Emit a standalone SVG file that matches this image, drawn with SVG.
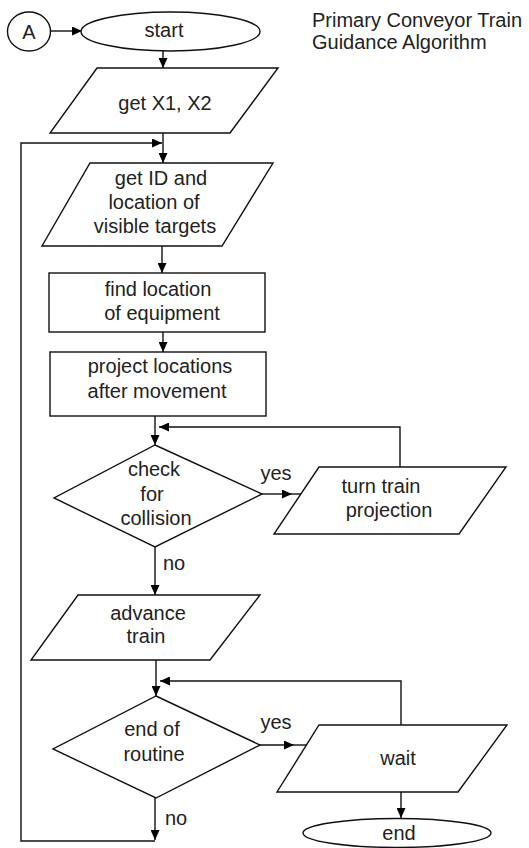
<svg xmlns="http://www.w3.org/2000/svg" width="529" height="848" viewBox="0 0 529 848">
<defs>
<marker id="ah" markerUnits="userSpaceOnUse" markerWidth="10" markerHeight="9" refX="10" refY="4.5" orient="auto">
<path d="M0,0 L10,4.5 L0,9 z" fill="#000"/>
</marker>
<style>
.s{fill:#fff;stroke:#111;stroke-width:1.4}
.c{fill:none;stroke:#111;stroke-width:1.4}
.a{marker-end:url(#ah)}
text{font-family:"Liberation Sans",Arial,sans-serif;font-size:20px;fill:#222;text-anchor:middle}
.t{text-anchor:start}
</style>
</defs>
<rect width="529" height="848" fill="#fff"/>
<g id="title">
<text class="t" x="312" y="27">Primary Conveyor Train</text>
<text class="t" x="312" y="49">Guidance Algorithm</text>
</g>
<g id="connectors">
<path class="c a" d="M51,31 H82"/>
<path class="c a" d="M163,51 V68"/>
<path class="c a" d="M163,133 V163"/>
<path class="c a" d="M155,798 V840"/>
<path class="c a" d="M155,841 H21 V143 H162"/>
<path class="c a" d="M162,246 V273"/>
<path class="c a" d="M163,332 V352"/>
<path class="c a" d="M155,416 V445"/>
<path class="c a" d="M262,494 H292"/>
<path class="c" d="M292,494 H302"/>
<path class="c a" d="M400,467 V427 H159"/>
<path class="c a" d="M155,547 V595"/>
<path class="c a" d="M156,660 V696"/>
<path class="c a" d="M260,745 H294"/>
<path class="c" d="M294,745 H311"/>
<path class="c a" d="M401,725 V681 H160"/>
<path class="c a" d="M401,792 V818"/>
<text x="276" y="480">yes</text>
<text x="174" y="570">no</text>
<text x="276" y="729">yes</text>
<text x="176" y="825">no</text>
</g>
<g id="connA">
<ellipse class="s" cx="29" cy="31.5" rx="21.5" ry="19.5"/>
<text x="29" y="39">A</text>
</g>
<g id="start">
<ellipse class="s" cx="170.5" cy="31.5" rx="89.5" ry="19.5"/>
<text x="164" y="37">start</text>
</g>
<g id="getX">
<polygon class="s" points="97,68 278,68 230,133 50,133"/>
<text x="165" y="110">get X1, X2</text>
</g>
<g id="getID">
<polygon class="s" points="90,163 273,163 222,246 42,246"/>
<text x="161" y="185">get ID and</text>
<text x="154" y="209">location of</text>
<text x="155" y="233">visible targets</text>
</g>
<g id="findLoc">
<rect class="s" x="49" y="273" width="216" height="59"/>
<text x="158" y="296">find location</text>
<text x="162" y="320">of equipment</text>
</g>
<g id="project">
<rect class="s" x="50" y="352" width="216" height="64"/>
<text x="160" y="373">project locations</text>
<text x="157" y="398">after movement</text>
</g>
<g id="checkCollision">
<polygon class="s" points="155,445 262,494 155,547 54,498"/>
<text x="154" y="476">check</text>
<text x="152" y="501">for</text>
<text x="156" y="525">collision</text>
</g>
<g id="turnTrain">
<polygon class="s" points="319,467 506,467 459,534 274,534"/>
<text x="381" y="493">turn train</text>
<text x="389" y="517">projection</text>
</g>
<g id="advance">
<polygon class="s" points="78,595 260,595 210,660 31,660"/>
<text x="148" y="620">advance</text>
<text x="146" y="643">train</text>
</g>
<g id="endRoutine">
<polygon class="s" points="156,696 260,745 156,798 53,749"/>
<text x="152" y="736">end of</text>
<text x="154" y="761">routine</text>
</g>
<g id="wait">
<polygon class="s" points="319,725 507,725 458,792 277,792"/>
<text x="398" y="765">wait</text>
</g>
<g id="end">
<ellipse class="s" cx="397" cy="833" rx="94" ry="14.5"/>
<text x="399" y="840">end</text>
</g>
</svg>
